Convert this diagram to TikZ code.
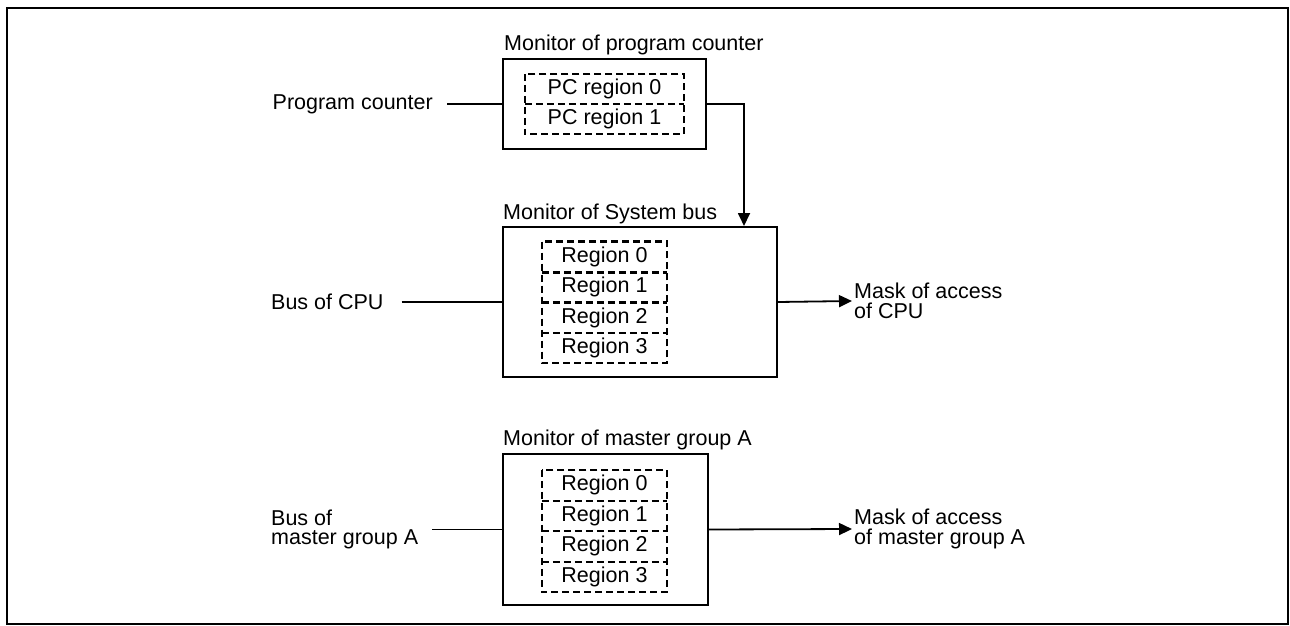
\documentclass[tikz,border=0pt]{standalone}
\usepackage{fontspec}
\setmainfont{Liberation Sans}
\usetikzlibrary{arrows.meta,calc}
\begin{document}
\begin{tikzpicture}[x=1pt,y=-1pt,
  font=\fontsize{21.5}{19.5}\selectfont,
  box/.style={draw,line width=2pt,rectangle,inner sep=0pt},
  row/.style={rectangle,inner sep=0pt},
  dashline/.style={line width=2.4pt,dash pattern=on 7pt off 4pt},
  lbl/.style={inner sep=0pt,anchor=base west},
  txt/.style={inner sep=0pt,align=left},
  conn/.style={line width=1.8pt},
  arr/.style={line width=1.8pt,-{Triangle[length=13pt,width=12pt]}}
]
\useasboundingbox (0,0) rectangle (1290,626);
\draw[line width=2.5pt] (7,8) rectangle (1288,624);

% ---- program counter monitor
\node[box,minimum width=203pt,minimum height=90pt] (pc) at (604.5,104) {};
\node[lbl] (pcl) at ($(pc.north west)+(2,-7)$) {Monitor of program counter};
\node[row,minimum width=159pt,minimum height=30pt] (p0) at (604.5,89) {PC region 0};
\node[row,minimum width=159pt,minimum height=30pt] (p1) at (604.5,119) {PC region 1};
\draw[dashline] (p0.north west) rectangle (p1.south east);
\draw[dashline] (p0.south west) -- (p0.south east);

\node[txt,anchor=east] (pcin) at (433,104) {Program counter};
\draw[conn] ([xshift=14pt]pcin.east) -- (pc.west);

% ---- system bus monitor
\node[box,minimum width=274pt,minimum height=150pt] (sb) at (640,302) {};
\node[lbl] (sbl) at ($(sb.north west)+(1,-7)$) {Monitor of System bus};
\node[row,minimum width=125pt,minimum height=30.3pt] (s0) at (604.5,257) {Region 0};
\node[row,minimum width=125pt,minimum height=30.3pt] (s1) at (604.5,287.3) {Region 1};
\node[row,minimum width=125pt,minimum height=30.3pt] (s2) at (604.5,317.6) {Region 2};
\node[row,minimum width=125pt,minimum height=30.3pt] (s3) at (604.5,347.9) {Region 3};
\draw[dashline] (s0.north west) rectangle (s3.south east);
\foreach \r in {s0,s1,s2} \draw[dashline] (\r.south west) -- (\r.south east);

\coordinate (pcturn) at (744,104);
\draw[arr] (pc.east|-pcturn) -- (pcturn) -- (pcturn|-sb.north);

\node[txt,anchor=west] (cpuin) at (271,302) {Bus of CPU};
\draw[conn] ([xshift=18pt]cpuin.east) -- (sb.west);

\node[txt,anchor=west] (cpuout) at (854,301) {Mask of access\\of CPU};
\draw[arr] (sb.east) -- ([xshift=-2pt]cpuout.west);

% ---- master group A monitor
\node[box,minimum width=205pt,minimum height=151pt] (ma) at (605.5,529.5) {};
\node[lbl] (mal) at ($(ma.north west)+(1,-8)$) {Monitor of master group A};
\node[row,minimum width=125pt,minimum height=30.5pt] (m0) at (604.5,485.25) {Region 0};
\node[row,minimum width=125pt,minimum height=30.5pt] (m1) at (604.5,515.75) {Region 1};
\node[row,minimum width=125pt,minimum height=30.5pt] (m2) at (604.5,546.25) {Region 2};
\node[row,minimum width=125pt,minimum height=30.5pt] (m3) at (604.5,576.75) {Region 3};
\draw[dashline] (m0.north west) rectangle (m3.south east);
\foreach \r in {m0,m1,m2} \draw[dashline] (\r.south west) -- (\r.south east);

\node[txt,anchor=west] (main) at (271,529.5) {Bus of\\master group A};
\draw[conn] ([xshift=14pt]main.east) -- (ma.west);

\node[txt,anchor=west] (maout) at (854,529) {Mask of access\\of master group A};
\draw[arr] (ma.east) -- (maout.west-|852,0);
\end{tikzpicture}
\end{document}
